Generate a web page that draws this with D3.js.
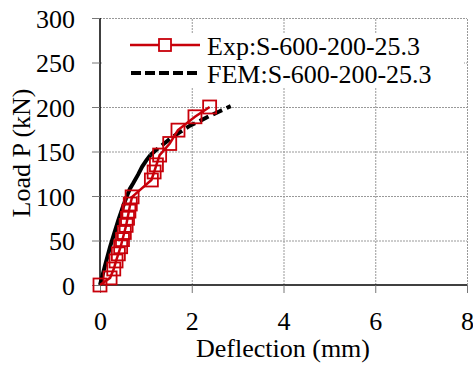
<!DOCTYPE html>
<html><head><meta charset="utf-8">
<script src="https://cdn.jsdelivr.net/npm/d3@7"></script>
<style>body{margin:0;background:#fff}svg{display:block}text{font-family:"Liberation Serif","Times New Roman",serif;fill:#000}</style>
</head><body><svg id="c" width="473" height="365"></svg>
<script>
const expX = [0,0.22,0.30,0.35,0.40,0.45,0.49,0.53,0.57,0.60,0.63,0.66,0.70,1.12,1.18,1.23,1.30,1.52,1.70,2.07,2.39];
const expY = [0,8,18,27,35,43,51,59,67,75,83,91,99,118,127,135,146,159,174,189,200];
const femX = [0,0.10,0.22,0.31,0.40,0.50,0.58,0.65,0.72,0.83,0.92,1.01,1.10,1.23,1.40,1.52,1.75,1.96,2.20,2.39,2.60,2.85];
const femY = [0,20,43,58,73,88,99,108,114,124,133,140,146,152,159,164,172,179,185,190,195,201];
const femSolidCount = 13;
const xTicks = [0,2,4,6,8];
const yTicks = [0,50,100,150,200,250,300];
const legendLabels = ["Exp:S-600-200-25.3","FEM:S-600-200-25.3"];

const FS = 26;
const svg = d3.select("#c");
const x = d3.scaleLinear().domain([0,8]).range([100,467]);
const y = d3.scaleLinear().domain([0,300]).range([285,18]);

// gridlines
const grid = svg.append("g").attr("stroke","#999").attr("stroke-width",1).attr("stroke-dasharray","2,1");
grid.selectAll(".gy").data(yTicks.filter(d=>d>0)).enter().append("line")
  .attr("x1",x(0)).attr("x2",x(8)).attr("y1",d=>y(d)+0.5).attr("y2",d=>y(d)+0.5);
grid.selectAll(".gx").data(xTicks.filter(d=>d>0)).enter().append("line")
  .attr("y1",y(0)).attr("y2",y(300)).attr("x1",d=>x(d)+0.5).attr("x2",d=>x(d)+0.5);

// axes
const xAxis = svg.append("g").attr("transform",`translate(0,${y(0)})`)
  .call(d3.axisBottom(x).tickValues(xTicks).tickSize(8).tickPadding(19).tickFormat(d3.format("d")));
xAxis.select(".domain").attr("stroke","#000").attr("stroke-width",1.5).attr("d",`M${x(0)},0H${x(8)}`);
xAxis.selectAll(".tick line").attr("stroke","#777");
xAxis.selectAll("text").attr("font-size",FS);

const yAxis = svg.append("g").attr("transform",`translate(${x(0)},0)`)
  .call(d3.axisLeft(y).tickValues(yTicks).tickSize(8).tickPadding(17));
yAxis.select(".domain").attr("stroke","#000").attr("stroke-width",1.5).attr("d",`M0,${y(0)}V${y(300)}`);
yAxis.selectAll(".tick line").attr("stroke","#777");
yAxis.selectAll("text").attr("font-size",FS).attr("dy","0.35em");

// axis titles
svg.append("text").attr("x",283).attr("y",357).attr("text-anchor","middle").attr("font-size",FS).text("Deflection (mm)");
svg.append("text").attr("transform","translate(30,153) rotate(-90)").attr("text-anchor","middle").attr("font-size",FS).text("Load P (kN)");

// legend box
svg.append("rect").attr("x",102).attr("y",33).attr("width",362).attr("height",54).attr("fill","#fff");

const red = "#c8000a";
const line = d3.line().x(d=>x(d[0])).y(d=>y(d[1]));
const femPts = femX.map((v,i)=>[v,femY[i]]);
svg.append("path").attr("d",line(femPts.slice(0,femSolidCount))).attr("fill","none").attr("stroke","#000").attr("stroke-width",4);
svg.append("path").attr("d",line(femPts.slice(femSolidCount-1))).attr("fill","none").attr("stroke","#000").attr("stroke-width",4).attr("stroke-dasharray","10,5");

const expPts = expX.map((v,i)=>[v,expY[i]]);
svg.append("path").attr("d",line(expPts)).attr("fill","none").attr("stroke",red).attr("stroke-width",2.5);
svg.selectAll(".m").data(expPts).enter().append("rect")
  .attr("x",d=>x(d[0])-6.5).attr("y",d=>y(d[1])-6.5).attr("width",13).attr("height",13)
  .attr("fill","none").attr("stroke",red).attr("stroke-width",1.8);

// legend
svg.append("line").attr("x1",130).attr("x2",200).attr("y1",45).attr("y2",45).attr("stroke",red).attr("stroke-width",2.5);
svg.append("rect").attr("x",159).attr("y",39).attr("width",12).attr("height",12).attr("fill","#fff").attr("stroke",red).attr("stroke-width",1.8);
svg.append("text").attr("x",207).attr("y",55).attr("font-size",FS).text(legendLabels[0]);
svg.append("line").attr("x1",131).attr("x2",200).attr("y1",73).attr("y2",73).attr("stroke","#000").attr("stroke-width",4).attr("stroke-dasharray","10,4");
svg.append("text").attr("x",207).attr("y",83).attr("font-size",FS).text(legendLabels[1]);
</script></body></html>
